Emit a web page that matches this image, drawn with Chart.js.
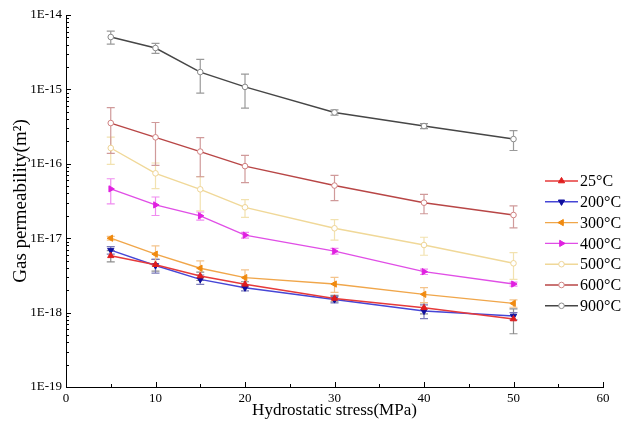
<!DOCTYPE html>
<html>
<head>
<meta charset="utf-8">
<script src="https://cdn.jsdelivr.net/npm/chart.js@4.4.0/dist/chart.umd.min.js"></script>
<style>
  html, body { margin: 0; padding: 0; background: #fff; }
  #wrap { width: 626px; height: 429px; }
</style>
</head>
<body>
<div id="wrap"><canvas id="chart" width="626" height="429"></canvas></div>
<script>
// hydrostatic stress (MPa)
const stress = [5, 10, 15, 20, 30, 40, 50];
const seriesNames = ['25°C', '200°C', '300°C', '400°C', '500°C', '600°C', '900°C'];

// gas permeability (m^2) and error (+/-) per temperature
const perm25 = [5.8e-18, 4.4e-18, 3.1e-18, 2.4e-18, 1.55e-18, 1.16e-18, 8.2e-19];
const err25 = [1.0e-18, 0.8e-18, 0.4e-18, 0.2e-18, 0.15e-18, 0.2e-18, 0.3e-18];
const perm200 = [6.9e-18, 4.3e-18, 2.8e-18, 2.16e-18, 1.5e-18, 1.05e-18, 9.0e-19];
const err200 = [0.8e-18, 0.9e-18, 0.4e-18, 0.2e-18, 0.15e-18, 0.22e-18, 0.1e-18];
const perm300 = [1.0e-17, 6.1e-18, 3.95e-18, 2.95e-18, 2.42e-18, 1.76e-18, 1.33e-18];
const err300 = [0.6e-18, 1.8e-18, 1.0e-18, 0.8e-18, 0.55e-18, 0.4e-18, 0.15e-18];
const perm400 = [4.6e-17, 2.8e-17, 2.0e-17, 1.1e-17, 6.7e-18, 3.55e-18, 2.42e-18];
const err400 = [1.7e-17, 0.78e-17, 0.25e-17, 0.1e-17, 0.6e-18, 0.3e-18, 0.15e-18];
const perm500 = [1.63e-16, 7.45e-17, 4.54e-17, 2.6e-17, 1.36e-17, 8.1e-18, 4.6e-18];
const err500 = [6.5e-17, 2.8e-17, 2.2e-17, 0.7e-17, 0.42e-17, 2.2e-18, 1.8e-18];
const perm600 = [3.53e-16, 2.27e-16, 1.46e-16, 9.3e-17, 5.1e-17, 3.0e-17, 2.05e-17];
const err600 = [2.15e-16, 1.32e-16, 7.9e-17, 3.7e-17, 1.9e-17, 0.87e-17, 6.7e-18];
const perm900 = [5.06e-15, 3.6e-15, 1.71e-15, 1.08e-15, 4.9e-16, 3.22e-16, 2.15e-16];
const err900 = [1.0e-15, 0.55e-15, 0.82e-15, 0.52e-15, 0.4e-16, 0.25e-16, 0.64e-16];

const yTickValues = [1e-19, 1e-18, 1e-17, 1e-16, 1e-15, 1e-14];

const FONT = "'Liberation Serif', 'Times New Roman', serif";

const styles = [
  { line: '#e63a3a', point: '#e01e1e', fill: '#e01e1e', shape: 'triangle', rot: 0, err: '#8e8e8e' },
  { line: '#4646d6', point: '#10109e', fill: '#10109e', shape: 'triangle', rot: 180, err: '#7a7ab8' },
  { line: '#f0a64a', point: '#f08a10', fill: '#f08a10', shape: 'triangle', rot: 270, err: '#f4c48c' },
  { line: '#e04ee6', point: '#e020e0', fill: '#e020e0', shape: 'triangle', rot: 90, err: '#f08cf0' },
  { line: '#f0d898', point: '#eed496', fill: '#ffffff', shape: 'circle', rot: 0, err: '#f2e2b0' },
  { line: '#b84646', point: '#d08282', fill: '#ffffff', shape: 'circle', rot: 0, err: '#d09a9a' },
  { line: '#464646', point: '#8a8a8a', fill: '#ffffff', shape: 'circle', rot: 0, err: '#9a9a9a' }
];

const values = [perm25, perm200, perm300, perm400, perm500, perm600, perm900];
const errors = [err25, err200, err300, err400, err500, err600, err900];

const datasets = values.map((vals, i) => ({
  label: seriesNames[i],
  data: stress.map((s, j) => ({ x: s, y: vals[j] })),
  errors: errors[i],
  errorColor: styles[i].err,
  borderColor: styles[i].line,
  borderWidth: 1.4,
  pointStyle: styles[i].shape,
  pointRotation: styles[i].rot,
  pointRadius: styles[i].shape === 'circle' ? 2.8 : 3.6,
  pointBorderWidth: 1,
  pointBorderColor: styles[i].point,
  pointBackgroundColor: styles[i].fill,
  tension: 0,
  fill: false
}));

function isDecade(v) {
  const e = Math.log10(v);
  return Math.abs(e - Math.round(e)) < 1e-6;
}

// vertical error bars with caps
const errorBars = {
  id: 'errorBars',
  beforeDatasetsDraw(chart) {
    const { ctx, scales: { x, y } } = chart;
    ctx.save();
    ctx.lineWidth = 1.2;
    chart.data.datasets.forEach((ds) => {
      ctx.strokeStyle = ds.errorColor;
      ds.data.forEach((p, i) => {
        const e = ds.errors[i];
        const px = x.getPixelForValue(p.x);
        const top = y.getPixelForValue(p.y + e);
        const bot = y.getPixelForValue(Math.max(p.y - e, 1e-21));
        ctx.beginPath();
        ctx.moveTo(px, top); ctx.lineTo(px, bot);
        ctx.moveTo(px - 4, top); ctx.lineTo(px + 4, top);
        ctx.moveTo(px - 4, bot); ctx.lineTo(px + 4, bot);
        ctx.stroke();
      });
    });
    ctx.restore();
  }
};

// inward major/minor tick marks
const inwardTicks = {
  id: 'inwardTicks',
  afterDraw(chart) {
    const { ctx, chartArea: a, scales: { x, y } } = chart;
    ctx.save();
    ctx.strokeStyle = '#000';
    ctx.lineWidth = 1;
    ctx.beginPath();
    for (let v = x.min; v <= x.max; v += 5) {
      const px = Math.round(x.getPixelForValue(v)) + 0.5;
      const len = v % 10 === 0 ? 5 : 3;
      ctx.moveTo(px, a.bottom); ctx.lineTo(px, a.bottom - len);
    }
    const e0 = Math.round(Math.log10(y.min));
    const e1 = Math.round(Math.log10(y.max));
    for (let e = e0; e <= e1; e++) {
      for (let k = 1; k <= 9; k++) {
        if (e === e1 && k > 1) break;
        const py = Math.round(y.getPixelForValue(k * Math.pow(10, e))) + 0.5;
        ctx.moveTo(a.left, py); ctx.lineTo(a.left + (k === 1 ? 5 : 3), py);
      }
    }
    ctx.stroke();
    ctx.restore();
  }
};

// legend box over the right edge of the plot
const sideLegend = {
  id: 'sideLegend',
  afterDraw(chart) {
    const { ctx, chartArea: a } = chart;
    const x0 = a.right - 58;
    const y0 = a.top + 166;
    ctx.save();
    ctx.font = '16px ' + FONT;
    ctx.textBaseline = 'middle';
    ctx.fillStyle = '#000';
    chart.data.datasets.forEach((ds, i) => {
      const yy = y0 + i * 20.8;
      ctx.strokeStyle = ds.borderColor;
      ctx.lineWidth = 1.4;
      ctx.beginPath();
      ctx.moveTo(x0, yy); ctx.lineTo(x0 + 33, yy);
      ctx.stroke();
      ctx.strokeStyle = ds.pointBorderColor;
      ctx.fillStyle = ds.pointBackgroundColor;
      ctx.lineWidth = 1;
      Chart.helpers.drawPoint(ctx, {
        pointStyle: ds.pointStyle,
        rotation: ds.pointRotation,
        radius: ds.pointRadius,
        borderWidth: 1
      }, x0 + 16.5, yy);
      ctx.fillStyle = '#000';
      ctx.fillText(ds.label, x0 + 35, yy + 1);
    });
    ctx.restore();
  }
};

new Chart(document.getElementById('chart'), {
  type: 'line',
  data: { datasets },
  plugins: [errorBars, inwardTicks, sideLegend],
  options: {
    responsive: false,
    animation: false,
    layout: { padding: { top: 15, right: 23, left: 0, bottom: 0 } },
    plugins: { legend: { display: false }, tooltip: { enabled: false } },
    scales: {
      x: {
        type: 'linear',
        min: 0,
        max: 60,
        grid: { display: false, drawTicks: false },
        border: { display: true, color: '#000', width: 1 },
        ticks: { stepSize: 10, color: '#000', padding: 4, font: { family: FONT, size: 13 } },
        title: {
          display: true,
          text: 'Hydrostatic stress(MPa)',
          color: '#000',
          font: { family: FONT, size: 17 },
          padding: { top: 0, bottom: 8 }
        },
        afterFit(scale) { scale.height = 42; }
      },
      y: {
        type: 'logarithmic',
        min: 1e-19,
        max: 1e-14,
        grid: { display: false, drawTicks: false },
        border: { display: true, color: '#000', width: 1 },
        afterBuildTicks(scale) { scale.ticks = yTickValues.map((v) => ({ value: v, major: true })); },
        ticks: {
          autoSkip: false,
          color: '#000',
          padding: 4,
          font: { family: FONT, size: 13 },
          callback: (v) => (isDecade(v) ? '1E' + Math.round(Math.log10(v)) : '')
        },
        title: {
          display: true,
          text: 'Gas permeability(m²)',
          color: '#000',
          font: { family: FONT, size: 19 },
          padding: { top: 10, bottom: 0 }
        },
        afterFit(scale) { scale.width = 66; }
      }
    }
  }
});
</script>
</body>
</html>
